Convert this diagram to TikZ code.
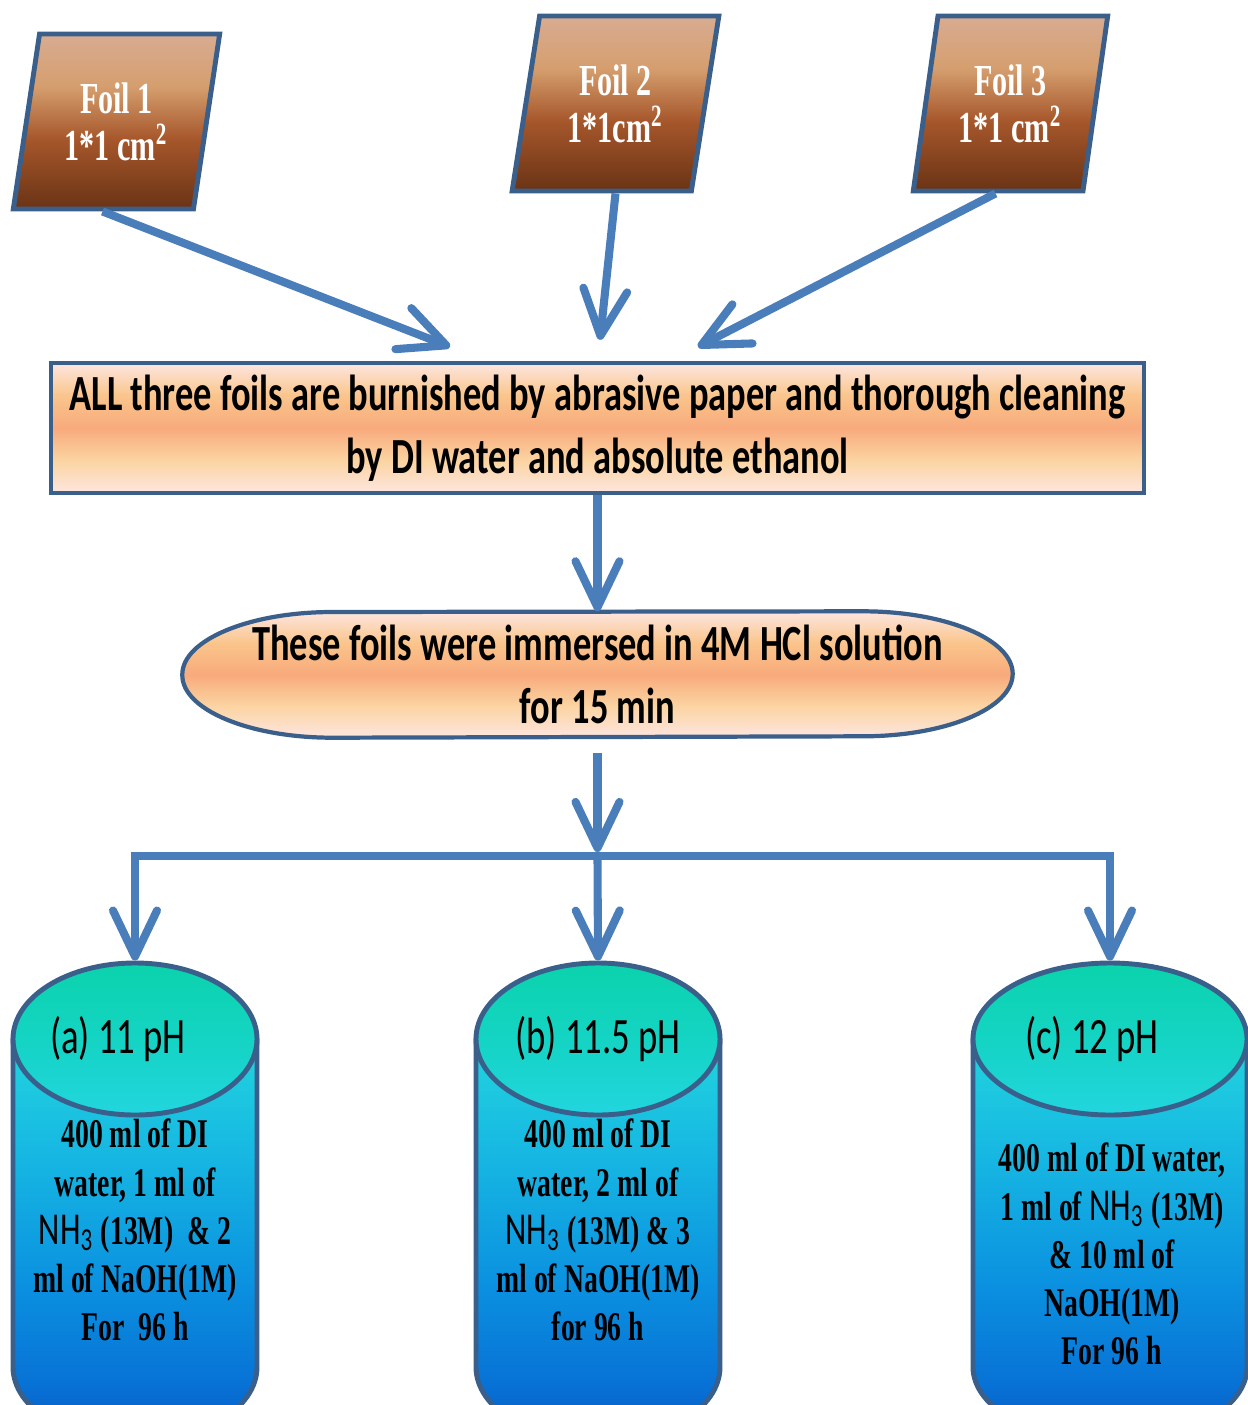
\documentclass[tikz,border=0pt]{standalone}
\usepackage{fontspec}
\usetikzlibrary{arrows.meta, shapes.geometric, backgrounds}

\newfontfamily\calfont[FakeStretch=0.72]{Carlito}
\newfontfamily\timfont[FakeStretch=0.68]{Liberation Serif}

\definecolor{flowblue}{HTML}{4A7EBB}
\definecolor{edgeblue}{HTML}{3A5F8B}
\definecolor{foilA}{HTML}{D8AC92}
\definecolor{foilB}{HTML}{D59E6E}
\definecolor{foilC}{HTML}{A6572B}
\definecolor{foilD}{HTML}{6A3315}
\definecolor{peachA}{HTML}{FDE6E0}
\definecolor{peachB}{HTML}{FAC58C}
\definecolor{peachC}{HTML}{F8AA7C}
\definecolor{peachD}{HTML}{FBD4A2}
\definecolor{tankA}{HTML}{22D5DE}
\definecolor{tankB}{HTML}{16B6E2}
\definecolor{tankC}{HTML}{0B92E0}
\definecolor{tankD}{HTML}{0873D6}
\definecolor{tankE}{HTML}{0859C4}
\definecolor{lidA}{HTML}{0BD3AC}
\definecolor{lidB}{HTML}{14D4C4}

\pgfdeclareverticalshading{foilshade}{100bp}{color(0bp)=(foilD); color(25bp)=(foilD); color(45bp)=(foilC); color(60bp)=(foilB); color(75bp)=(foilA); color(100bp)=(foilA)}
\pgfdeclareverticalshading{peachshade}{100bp}{color(0bp)=(peachA); color(25bp)=(peachA); color(37.5bp)=(peachD); color(50bp)=(peachC); color(62.5bp)=(peachB); color(75bp)=(peachA); color(100bp)=(peachA)}
\pgfdeclareverticalshading{tankshade}{100bp}{color(0bp)=(tankE); color(25bp)=(tankE); color(32.5bp)=(tankD); color(45bp)=(tankC); color(60bp)=(tankB); color(75bp)=(tankA); color(100bp)=(tankA)}
\pgfdeclareverticalshading{lidshade}{100bp}{color(0bp)=(tankA); color(25bp)=(tankA); color(50bp)=(lidB); color(75bp)=(lidA); color(100bp)=(lidA)}

\begin{document}
\begin{tikzpicture}[
  x=1cm, y=-1cm,
  foil/.style={trapezium, trapezium left angle=78, trapezium right angle=102, trapezium stretches=true, draw=edgeblue, line width=1.4pt, shading=foilshade, minimum height=1.75cm, text=white, align=center, font=\timfont\bfseries\fontsize{12.6}{13.4}\selectfont},
  stage/.style={rectangle, draw=edgeblue, line width=1.2pt, shading=peachshade, minimum width=10.93cm, minimum height=1.22cm, align=center, font=\calfont\bfseries\fontsize{14.4}{18}\selectfont},
  bath/.style={rectangle, minimum width=8.29cm, minimum height=1.25cm, inner sep=0pt, align=center, font=\calfont\bfseries\fontsize{14.4}{18}\selectfont},
  bathwall/.style={draw=edgeblue, line width=1.2pt, shading=peachshade},
  lid/.style={ellipse, draw=edgeblue, line width=1.4pt, shading=lidshade, minimum height=1.52cm, inner xsep=-0.3cm, inner ysep=0pt, font=\calfont\fontsize{14.5}{15}\selectfont},
  tank/.style={draw=edgeblue, line width=1.4pt, shading=tankshade},
  recipe/.style={align=center, font=\timfont\bfseries\fontsize{11.6}{13.7}\selectfont},
  flow/.style={draw=flowblue, line width=2.3pt, -{Straight Barb[length=4.6mm, width=4.4mm, round]}}
]
\path[use as bounding box, clip] (0,0) rectangle (12.48,14.05);

% foils
\node[foil, minimum width=2.07cm] (foil1) at (1.165,1.215) {Foil 1\\1*1 cm\textsuperscript{2}};
\node[foil, minimum width=2.07cm] (foil2) at (6.155,1.035) {Foil 2\\1*1cm\textsuperscript{2}};
\node[foil, minimum width=1.95cm] (foil3) at (10.105,1.035) {Foil 3\\1*1 cm\textsuperscript{2}};

% cleaning steps
\node[stage] (stage) at (5.975,4.28) {ALL three foils are burnished by abrasive paper and thorough cleaning\\by DI water and absolute ethanol};
\node[bath] (bath) at (5.975,6.745) {These foils were immersed in 4M HCl solution\\for 15 min};
\begin{pgfonlayer}{background}
  \path[bathwall] (bath.west)
    arc[start angle=180, end angle=90, x radius=1.5cm, y radius=0.625cm]
    -- ([xshift=-1.5cm]bath.north east)
    arc[start angle=90, end angle=-90, x radius=1.5cm, y radius=0.625cm]
    -- ([xshift=1.5cm]bath.south west)
    arc[start angle=270, end angle=180, x radius=1.5cm, y radius=0.625cm] -- cycle;
\end{pgfonlayer}
\coordinate (split) at (5.975,8.56);

% tanks
\path[tank] (0.13,10.38) -- (0.13,13.67) arc[start angle=180, end angle=360, x radius=1.22cm, y radius=0.75cm] -- (2.57,10.38);
\path[tank] (4.76,10.38) -- (4.76,13.67) arc[start angle=180, end angle=360, x radius=1.22cm, y radius=0.75cm] -- (7.20,10.38);
\path[tank] (9.73,10.38) -- (9.73,13.67) arc[start angle=180, end angle=360, x radius=1.37cm, y radius=0.75cm] -- (12.47,10.38);

\node[lid, minimum width=2.44cm] (lidA) at (1.35,10.39) {(a) 11 pH\rule{0.34cm}{0pt}};
\node[lid, minimum width=2.44cm] (lidB) at (5.98,10.39) {(b) 11.5 pH};
\node[lid, minimum width=2.74cm] (lidC) at (11.10,10.39) {(c) 12 pH\rule{0.36cm}{0pt}};

\node[recipe] (bodyA) at (1.35,12.30) {400 ml of DI\\water, 1 ml of\\{\calfont\mdseries\fontsize{13}{13.7}\selectfont NH\textsubscript{3}} (13M)~~\& 2\\ml of NaOH(1M)\\For~~96 h};
\node[recipe] (bodyB) at (5.98,12.30) {400 ml of DI\\water, 2 ml of\\{\calfont\mdseries\fontsize{13}{13.7}\selectfont NH\textsubscript{3}} (13M) \& 3\\ml of NaOH(1M)\\for 96 h};
\node[recipe] (bodyC) at (11.12,12.54) {400 ml of DI water,\\1 ml of {\calfont\mdseries\fontsize{13}{13.7}\selectfont NH\textsubscript{3}} (13M)\\\& 10 ml of\\NaOH(1M)\\For 96 h};

% arrows
\draw[flow] ([xshift=-0.14cm]foil1.south) -- ([xshift=-1.475cm, yshift=0.14cm]stage.north);
\draw[flow] (foil2.south) -- ([xshift=0.025cm, yshift=0.21cm]stage.north);
\draw[flow] ([xshift=-0.15cm]foil3.south) -- ([xshift=1.005cm, yshift=0.14cm]stage.north);
\draw[flow] (stage.south) -- (bath.north);
\draw[flow] (split) -| (lidA.north);
\draw[flow] (split) -- (lidB.north);
\draw[flow] (split) -| (lidC.north);
\draw[flow, shorten <=0.15cm, shorten >=0.04cm] (bath.south) -- (split);

\end{tikzpicture}
\end{document}
